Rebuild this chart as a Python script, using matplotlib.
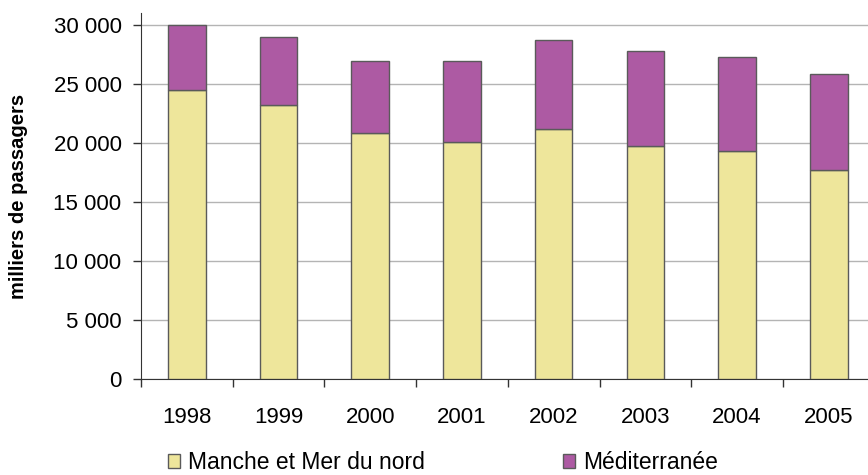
import numpy as np
import matplotlib
matplotlib.use('Agg')
import matplotlib.pyplot as plt
from matplotlib.patches import Patch

plt.rcParams['font.family'] = ['Liberation Sans', 'DejaVu Sans']

# data (milliers de passagers)
years = ['1998', '1999', '2000', '2001', '2002', '2003', '2004', '2005']
manche = [24550, 23270, 20850, 20130, 21170, 19800, 19360, 17710]
medit_total = [30000, 29000, 27000, 27000, 28720, 27800, 27350, 25850]
medit = [t - m for t, m in zip(medit_total, manche)]
yticks = [0, 5000, 10000, 15000, 20000, 25000, 30000]
ytick_labels = ['0', '5 000', '10 000', '15 000', '20 000', '25 000', '30 000']

col_manche = '#eee69b'
col_medit = '#ad5aa3'
edge = '#5a5a5a'

fig = plt.figure(figsize=(8.68, 4.75), dpi=100)
ax = fig.add_axes([141/868, 96/475, 733.6/868, 366/475])

x = np.arange(len(years))
ax.bar(x, manche, width=0.41, color=col_manche, edgecolor=edge, linewidth=1, zorder=3)
ax.bar(x, medit, width=0.41, bottom=manche, color=col_medit, edgecolor=edge, linewidth=1, zorder=3)

ax.set_xlim(-0.5, 7.5)
ax.set_ylim(0, 31050)

# y axis
ax.set_yticks(yticks)
ax.set_yticklabels(ytick_labels, fontsize=16)
ax.tick_params(axis='y', direction='out', length=6, width=1, pad=8, color='#333333')
ax.yaxis.grid(True, color='#b4b4b4', linewidth=1, zorder=0)
ax.set_axisbelow(True)
ax.set_ylabel('milliers de passagers', fontsize=14.5, fontweight='bold', labelpad=18)

# x axis - ticks between categories, labels at the centres
ax.set_xticks(np.arange(-0.5, 8, 1))
ax.set_xticklabels([])
ax.set_xticks(x, minor=True)
ax.set_xticklabels(years, minor=True, fontsize=16)
ax.tick_params(axis='x', which='major', direction='out', length=6, width=1, color='#333333')
ax.tick_params(axis='x', which='minor', length=0, pad=20)

for s in ['top', 'right']:
    ax.spines[s].set_visible(False)
ax.spines['left'].set_color('#333333')
ax.spines['bottom'].set_color('#333333')

handles = [Patch(facecolor=col_manche, edgecolor=edge, label='Manche et Mer du nord'),
           Patch(facecolor=col_medit, edgecolor=edge, label='Méditerranée')]
fig.legend(handles=handles, loc='lower left', bbox_to_anchor=(147/868, -20/475), ncol=2,
           frameon=False, fontsize=16.5, handlelength=0.55, handleheight=0.55,
           handletextpad=0.35, columnspacing=6.0)

fig.savefig('out.png', dpi=100)
